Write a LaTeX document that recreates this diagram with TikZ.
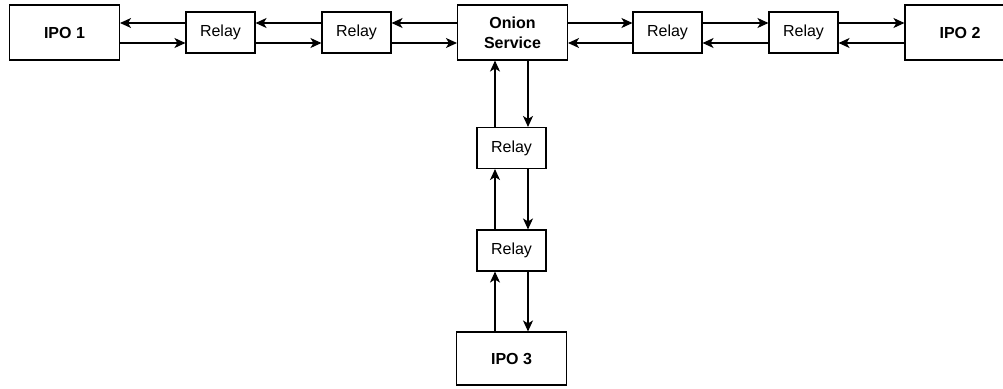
\documentclass[tikz,border=0pt]{standalone}
\usepackage{fontspec}
\setmainfont{Liberation Sans}
\usetikzlibrary{arrows.meta}
\begin{document}
\begin{tikzpicture}[x=1pt,y=-1pt,
  box/.style={draw, line width=1.1pt, minimum width=110pt, minimum height=55pt, inner sep=0pt, font=\fontsize{16}{20}\selectfont\bfseries, align=center},
  relaybox/.style={draw, line width=1.1pt, minimum width=69pt, minimum height=41pt, inner sep=0pt, font=\fontsize{16}{18}\selectfont},
  link/.style={line width=1.1pt, -{Stealth[length=11pt,width=10pt,inset=3pt]}}]
\useasboundingbox (0,0) rectangle (1003,388);
\begin{scope}
\clip (0,0) rectangle (1003,388);
% top row
\node[box] (ipo1) at (64.5,32.5) {IPO 1};
\node[relaybox] (r1) at (220.5,32.5) {Relay};
\node[relaybox] (r2) at (356.5,32.5) {Relay};
\node[box] (onion) at (512.5,32.5) {Onion\\Service};
\node[relaybox] (r3) at (667.5,32.5) {Relay};
\node[relaybox] (r4) at (803.5,32.5) {Relay};
\node[box] (ipo2) at (960,32.5) {IPO 2};
% vertical column
\node[relaybox] (v1) at (511.5,148) {Relay};
\node[relaybox] (v2) at (511.5,250.5) {Relay};
\node[box, minimum height=53pt] (ipo3) at (511.5,358.5) {IPO 3};
% left branch: upper lines point left, lower lines point right
\draw[link] ([yshift=9.5pt]r1.west) -- ([yshift=9.5pt]r1.west -| ipo1.east);
\draw[link] ([yshift=-10.5pt]ipo1.east |- r1.west) -- ([yshift=-10.5pt]r1.west);
\draw[link] ([yshift=9.5pt]r2.west) -- ([yshift=9.5pt]r2.west -| r1.east);
\draw[link] ([yshift=-10.5pt]r1.east) -- ([yshift=-10.5pt]r2.west);
\draw[link] ([yshift=9.5pt]onion.west |- r2.west) -- ([yshift=9.5pt]r2.east);
\draw[link] ([yshift=-10.5pt]r2.east) -- ([yshift=-10.5pt]onion.west |- r2.east);
% right branch: upper lines point right, lower lines point left
\draw[link] ([yshift=9.5pt]onion.east |- r3.west) -- ([yshift=9.5pt]r3.west);
\draw[link] ([yshift=-10.5pt]r3.west) -- ([yshift=-10.5pt]onion.east |- r3.west);
\draw[link] ([yshift=9.5pt]r3.east) -- ([yshift=9.5pt]r4.west);
\draw[link] ([yshift=-10.5pt]r4.west) -- ([yshift=-10.5pt]r3.east);
\draw[link] ([yshift=9.5pt]r4.east) -- ([yshift=9.5pt]r4.east -| ipo2.west);
\draw[link] ([yshift=-10.5pt]r4.east -| ipo2.west) -- ([yshift=-10.5pt]r4.east);
% vertical branch: left lines point up, right lines point down
\draw[link] ([xshift=-16.5pt]v1.north) -- ([xshift=-16.5pt]v1.north |- onion.south);
\draw[link] ([xshift=16.5pt]v1.north |- onion.south) -- ([xshift=16.5pt]v1.north);
\draw[link] ([xshift=-16.5pt]v2.north) -- ([xshift=-16.5pt]v1.south);
\draw[link] ([xshift=16.5pt]v1.south) -- ([xshift=16.5pt]v2.north);
\draw[link] ([xshift=-16.5pt]ipo3.north) -- ([xshift=-16.5pt]v2.south);
\draw[link] ([xshift=16.5pt]v2.south) -- ([xshift=16.5pt]ipo3.north);
\end{scope}
\end{tikzpicture}
\end{document}
